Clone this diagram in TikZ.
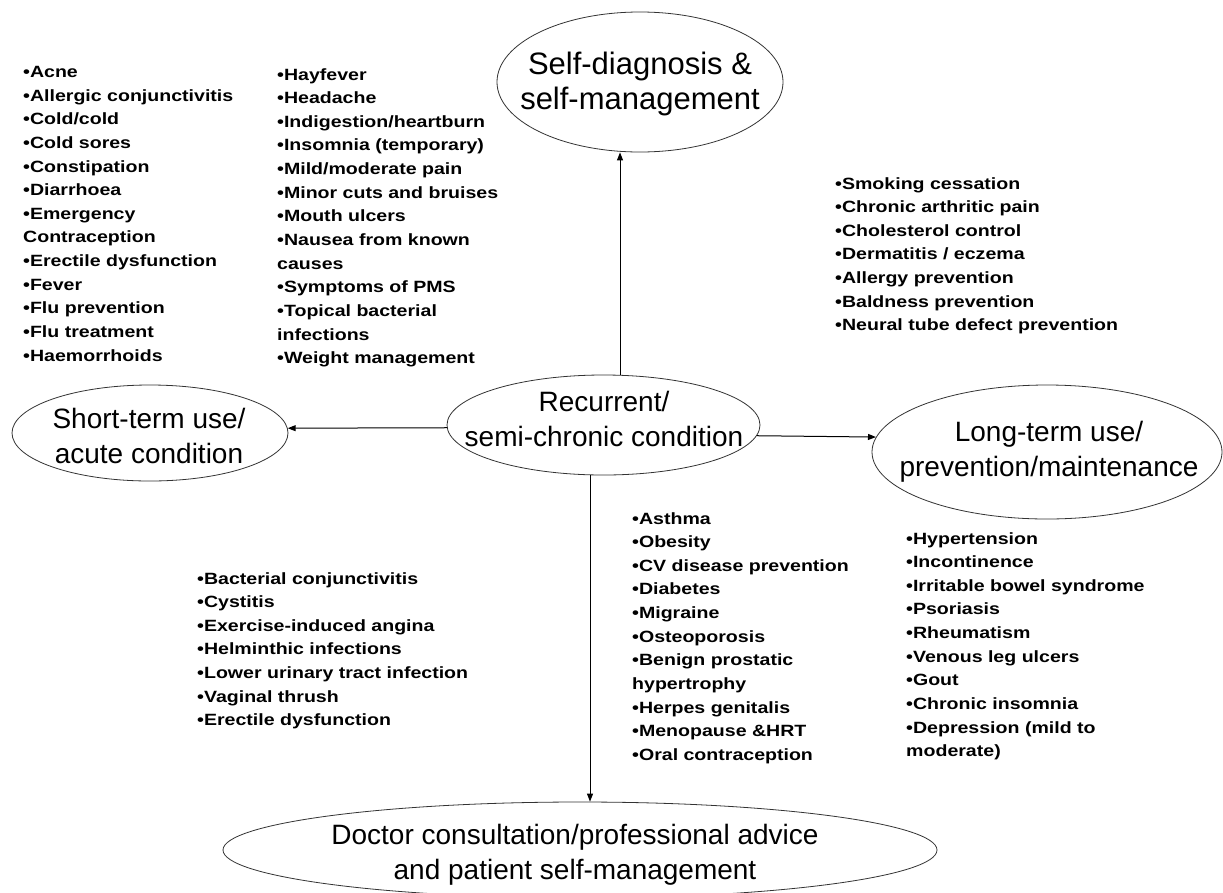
\documentclass[tikz,border=0pt]{standalone}
\usepackage{fontspec}
\setmainfont{Liberation Sans}
\newfontfamily\listfont[FakeStretch=1.2]{Liberation Sans}
\usetikzlibrary{arrows.meta,shapes.geometric}
\begin{document}
\begin{tikzpicture}[x=1pt,y=-1pt,
  oval/.style={draw=black!80, line width=0.8pt, ellipse, inner sep=0pt},
  lbl/.style={align=center, inner sep=0pt, font=\fontsize{28}{35}\selectfont},
  lst/.style={anchor=north west, align=left, inner sep=0pt, font=\listfont\bfseries\fontsize{16.3}{23.65}\selectfont},
  arr/.style={-{Triangle[length=8pt,width=6pt]}, line width=1pt}]
\fill[white] (0,0) rectangle (1223,892);
\useasboundingbox (0,0) rectangle (1223,892);

% ellipses
\node[oval, minimum width=286pt, minimum height=140pt] (self) at (640,82) {};
\node[lbl, font=\fontsize{31}{35}\selectfont] (selft) at (640,84) {Self-diagnosis \&\\self-management};
\node[oval, minimum width=313pt, minimum height=100pt] (rec) at (603.5,425) {};
\node[lbl] (rect) at (604,419) {Recurrent/\\semi-chronic condition};
\node[oval, minimum width=276pt, minimum height=96pt] (short) at (150,433) {};
\node[lbl] (shortt) at (149,436) {Short-term use/\\acute condition};
\node[oval, minimum width=350pt, minimum height=134pt] (long) at (1047,452) {};
\node[lbl] (longt) at (1049,452) {Long-term use/\\prevention/maintenance};
\node[oval, minimum width=714pt, minimum height=96pt] (doc) at (580,850) {};
\node[lbl] (doct) at (575,855) {Doctor consultation/professional advice\\and patient self-management};

% connectors
\coordinate (ux) at (620,0);
\coordinate (dx) at (590,0);
\draw[arr] (rec.north -| ux) -- (self.south -| ux);
\draw[arr] (rec.181) -- (short.2);
\draw[arr] (rec.-4) -- (long.175);
\draw[arr] (rec.south -| dx) -- (doc.north -| dx);

% lists
\node[lst] (l1) at (23,66) {•Acne\\•Allergic conjunctivitis\\•Cold/cold\\•Cold sores\\•Constipation\\•Diarrhoea\\•Emergency\\Contraception\\•Erectile dysfunction\\•Fever\\•Flu prevention\\•Flu treatment\\•Haemorrhoids};
\node[lst] (l2) at (277,68) {•Hayfever\\•Headache\\•Indigestion/heartburn\\•Insomnia (temporary)\\•Mild/moderate pain\\•Minor cuts and bruises\\•Mouth ulcers\\•Nausea from known\\causes\\•Symptoms of PMS\\•Topical bacterial\\infections\\•Weight management};
\node[lst] (l3) at (835,177) {•Smoking cessation\\•Chronic arthritic pain\\•Cholesterol control\\•Dermatitis / eczema\\•Allergy prevention\\•Baldness prevention\\•Neural tube defect prevention};
\node[lst] (l4) at (197,572) {•Bacterial conjunctivitis\\•Cystitis\\•Exercise-induced angina\\•Helminthic infections\\•Lower urinary tract infection\\•Vaginal thrush\\•Erectile dysfunction};
\node[lst] (l5) at (632,512) {•Asthma\\•Obesity\\•CV disease prevention\\•Diabetes\\•Migraine\\•Osteoporosis\\•Benign prostatic\\hypertrophy\\•Herpes genitalis\\•Menopause \&HRT\\•Oral contraception};
\node[lst] (l6) at (906,532) {•Hypertension\\•Incontinence\\•Irritable bowel syndrome\\•Psoriasis\\•Rheumatism\\•Venous leg ulcers\\•Gout\\•Chronic insomnia\\•Depression (mild to\\moderate)};
\end{tikzpicture}
\end{document}
